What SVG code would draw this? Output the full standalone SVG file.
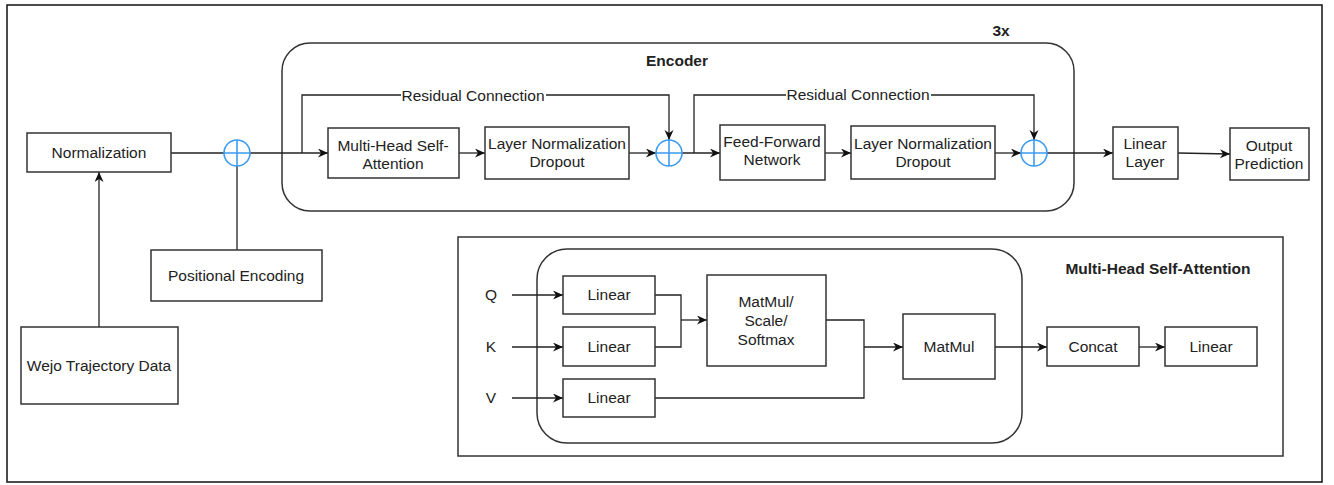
<svg xmlns="http://www.w3.org/2000/svg" width="1334" height="485" viewBox="0 0 1334 485">
<style>
  .box{fill:#fff;stroke:#333;stroke-width:1.5}
  .cont{fill:none;stroke:#333;stroke-width:1.5}
  .t{font-family:"Liberation Sans",Arial,sans-serif;font-size:15.5px;fill:#222;text-anchor:middle}
  .b{font-weight:bold}
  .ln{fill:none;stroke:#222;stroke-width:1.3}
  .plus{fill:#fff;stroke:#3d9bf2;stroke-width:1.6}
  .lbl{fill:#fff}
</style>
<defs>
  <marker id="ar" markerWidth="11" markerHeight="10" refX="10" refY="4.5" orient="auto" markerUnits="userSpaceOnUse">
    <path d="M0,0 L10,4.5 L0,9 L3,4.5 Z" fill="#111"/>
  </marker>
</defs>
<rect x="7" y="5" width="1315" height="477" fill="#fff" stroke="#111" stroke-width="1.5"/>

<g id="encoder">
  <rect class="cont" x="282" y="43" width="792" height="168" rx="28" ry="28"/>
  <text class="t b" x="677" y="66">Encoder</text>
  <text class="t b" x="1001" y="36">3x</text>
</g>
<g id="mhsa-panel">
  <rect class="cont" x="458" y="237" width="825" height="219"/>
  <rect class="cont" x="537" y="249" width="485" height="194" rx="30" ry="30"/>
  <text class="t b" x="1158" y="274">Multi-Head Self-Attention</text>
</g>

<g id="connectors">
  <line class="ln" x1="171" y1="153" x2="224" y2="153"/>
  <line class="ln" x1="250" y1="153" x2="328" y2="153" marker-end="url(#ar)"/>
  <line class="ln" x1="237" y1="166" x2="237" y2="250"/>
  <line class="ln" x1="99" y1="327" x2="99" y2="172" marker-end="url(#ar)"/>
  <line class="ln" x1="459" y1="153" x2="485" y2="153" marker-end="url(#ar)"/>
  <line class="ln" x1="629" y1="153" x2="656" y2="153" marker-end="url(#ar)"/>
  <polyline class="ln" points="302,153 302,95 669,95 669,140" marker-end="url(#ar)"/>
  <rect class="lbl" x="401" y="86" width="145" height="18"/>
  <text class="t" x="473" y="101">Residual Connection</text>
  <line class="ln" x1="682" y1="153" x2="720" y2="153" marker-end="url(#ar)"/>
  <polyline class="ln" points="694,153 694,95 1034,95 1034,140" marker-end="url(#ar)"/>
  <rect class="lbl" x="786" y="86" width="145" height="18"/>
  <text class="t" x="858" y="100">Residual Connection</text>
  <line class="ln" x1="825" y1="153" x2="851" y2="153" marker-end="url(#ar)"/>
  <line class="ln" x1="995" y1="153" x2="1021" y2="153" marker-end="url(#ar)"/>
  <line class="ln" x1="1047" y1="153" x2="1113" y2="153" marker-end="url(#ar)"/>
  <line class="ln" x1="1178" y1="153" x2="1230" y2="154" marker-end="url(#ar)"/>

  <line class="ln" x1="512" y1="295" x2="563" y2="295" marker-end="url(#ar)"/>
  <line class="ln" x1="512" y1="347" x2="563" y2="347" marker-end="url(#ar)"/>
  <line class="ln" x1="512" y1="398" x2="563" y2="398" marker-end="url(#ar)"/>
  <polyline class="ln" points="655,295 681,295 681,347 655,347"/>
  <line class="ln" x1="681" y1="320" x2="707" y2="320" marker-end="url(#ar)"/>
  <polyline class="ln" points="826,320 864,320 864,398 655,398"/>
  <line class="ln" x1="864" y1="347" x2="903" y2="347" marker-end="url(#ar)"/>
  <line class="ln" x1="995" y1="347" x2="1047" y2="347" marker-end="url(#ar)"/>
  <line class="ln" x1="1139" y1="347" x2="1165" y2="347" marker-end="url(#ar)"/>
</g>

<g id="plus1"><circle class="plus" cx="237" cy="153" r="13"/><path d="M224,153 H250 M237,140 V166" stroke="#3d9bf2" stroke-width="1.6"/></g>
<g id="plus2"><circle class="plus" cx="669" cy="153" r="13"/><path d="M656,153 H682 M669,140 V166" stroke="#3d9bf2" stroke-width="1.6"/></g>
<g id="plus3"><circle class="plus" cx="1034" cy="153" r="13"/><path d="M1021,153 H1047 M1034,140 V166" stroke="#3d9bf2" stroke-width="1.6"/></g>

<g id="normalization"><rect class="box" x="27" y="133" width="144" height="39"/><text class="t" x="99" y="158">Normalization</text></g>
<g id="positional-encoding"><rect class="box" x="151" y="250" width="171" height="51"/><text class="t" x="236" y="281">Positional Encoding</text></g>
<g id="wejo"><rect class="box" x="21" y="327" width="157" height="77"/><text class="t" x="99" y="371">Wejo Trajectory Data</text></g>
<g id="mhsa"><rect class="box" x="328" y="128" width="131" height="50"/><text class="t" x="393" y="151">Multi-Head Self-</text><text class="t" x="393" y="169">Attention</text></g>
<g id="ln1"><rect class="box" x="485" y="127" width="144" height="52"/><text class="t" x="557" y="149">Layer Normalization</text><text class="t" x="557" y="167">Dropout</text></g>
<g id="ffn"><rect class="box" x="720" y="125" width="105" height="55"/><text class="t" x="772" y="147">Feed-Forward</text><text class="t" x="772" y="165">Network</text></g>
<g id="ln2"><rect class="box" x="851" y="126" width="144" height="53"/><text class="t" x="923" y="149">Layer Normalization</text><text class="t" x="923" y="167">Dropout</text></g>
<g id="linear-layer"><rect class="box" x="1113" y="127" width="65" height="52"/><text class="t" x="1145" y="149">Linear</text><text class="t" x="1145" y="167">Layer</text></g>
<g id="output"><rect class="box" x="1230" y="128" width="79" height="52"/><text class="t" x="1269" y="151">Output</text><text class="t" x="1269" y="169">Prediction</text></g>

<g id="q"><text class="t" x="491" y="300">Q</text></g>
<g id="k"><text class="t" x="491" y="352">K</text></g>
<g id="v"><text class="t" x="491" y="403">V</text></g>
<g id="lin-q"><rect class="box" x="563" y="276" width="92" height="38"/><text class="t" x="609" y="300">Linear</text></g>
<g id="lin-k"><rect class="box" x="563" y="327" width="92" height="39"/><text class="t" x="609" y="352">Linear</text></g>
<g id="lin-v"><rect class="box" x="563" y="379" width="92" height="38"/><text class="t" x="609" y="403">Linear</text></g>
<g id="scale"><rect class="box" x="707" y="275" width="119" height="91"/><text class="t" x="766" y="307">MatMul/</text><text class="t" x="766" y="326">Scale/</text><text class="t" x="766" y="345">Softmax</text></g>
<g id="matmul"><rect class="box" x="903" y="314" width="92" height="65"/><text class="t" x="949" y="352">MatMul</text></g>
<g id="concat"><rect class="box" x="1047" y="327" width="92" height="39"/><text class="t" x="1093" y="352">Concat</text></g>
<g id="linear-out"><rect class="box" x="1165" y="327" width="92" height="39"/><text class="t" x="1211" y="352">Linear</text></g>
</svg>
